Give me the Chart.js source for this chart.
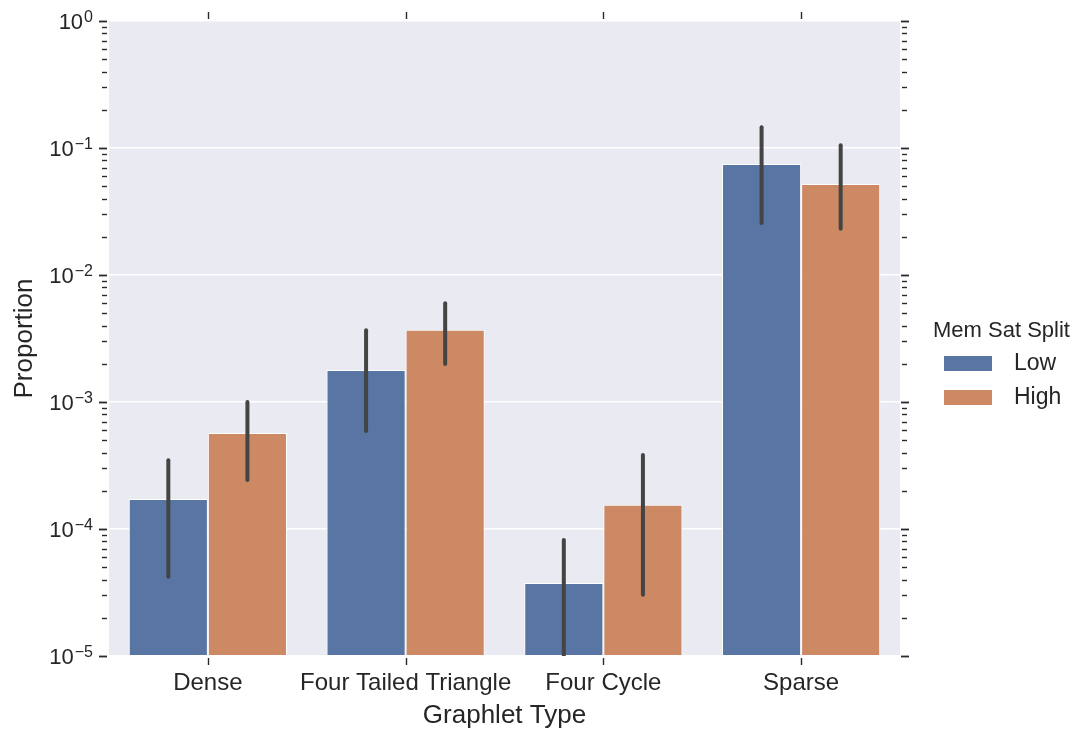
<!DOCTYPE html>
<html>
<head>
<meta charset="utf-8">
<script src="https://cdn.jsdelivr.net/npm/chart.js@4.4.0/dist/chart.umd.min.js"></script>
<style>
    html, body { margin: 0; padding: 0; background: #ffffff; }
    #wrap { width: 1082px; height: 732px; position: relative; }
</style>
</head>
<body>
<div id="wrap"><canvas id="chart"></canvas></div>
<script>
(function () {
    // values (log scale)
    const categories = ['Dense', 'Four Tailed Triangle', 'Four Cycle', 'Sparse'];
    const seriesNames = ['Low', 'High'];
    const lowValues = [1.72e-4, 1.79e-3, 3.76e-5, 0.0749];
    const highValues = [5.7e-4, 3.7e-3, 1.55e-4, 0.052];
    const lowCiLow = [4.2e-5, 5.9e-4, 9e-6, 0.0257];
    const lowCiHigh = [3.48e-4, 3.68e-3, 8.2e-5, 0.146];
    const highCiLow = [2.43e-4, 1.99e-3, 3.03e-5, 0.0231];
    const highCiHigh = [1.0e-3, 6.0e-3, 3.82e-4, 0.105];
    const majorTicks = [1e-5, 1e-4, 1e-3, 1e-2, 1e-1, 1];
    const minorSteps = [2, 3, 4, 5, 6, 7, 8, 9];

    const colors = ['#5875a4', '#cc8963'];
    const textColor = '#262626';
    const tickColor = '#2a2a2a';
    const fontFamily = '"Liberation Sans", Arial, sans-serif';

    const ciLow = [lowCiLow, highCiLow];
    const ciHigh = [lowCiHigh, highCiHigh];

    function line(ctx, x1, y1, x2, y2) {
        ctx.beginPath();
        ctx.moveTo(x1, y1);
        ctx.lineTo(x2, y2);
        ctx.stroke();
    }

    const decorations = {
        id: 'decorations',
        beforeDraw(chart) {
            const { ctx, chartArea: a } = chart;
            ctx.save();
            ctx.fillStyle = '#eaeaf2';
            ctx.fillRect(a.left, a.top, a.right - a.left, a.bottom - a.top);
            ctx.restore();
        },
        afterDatasetsDraw(chart) {
            const { ctx, chartArea: a } = chart;
            const y = chart.scales.y;
            ctx.save();
            ctx.beginPath();
            ctx.rect(a.left, a.top, a.right - a.left, a.bottom - a.top);
            ctx.clip();
            ctx.strokeStyle = '#444444';
            ctx.lineWidth = 4;
            ctx.lineCap = 'round';
            chart.data.datasets.forEach((ds, d) => {
                chart.getDatasetMeta(d).data.forEach((bar, i) => {
                    line(ctx, bar.x, y.getPixelForValue(ciHigh[d][i]), bar.x, y.getPixelForValue(ciLow[d][i]));
                });
            });
            ctx.restore();
        },
        afterDraw(chart) {
            const { ctx, chartArea: a } = chart;
            const x = chart.scales.x;
            const y = chart.scales.y;
            ctx.save();
            ctx.strokeStyle = tickColor;

            // y ticks, left and right
            y.ticks.forEach(t => {
                const py = Math.round(y.getPixelForValue(t.value)) + 0.5;
                ctx.lineWidth = t.major ? 1.8 : 1.4;
                if (t.major) {
                    line(ctx, a.left - 10, py, a.left - 2, py);
                    line(ctx, a.right + 1, py, a.right + 9, py);
                } else {
                    line(ctx, a.left - 7, py, a.left - 2, py);
                    line(ctx, a.right + 2, py, a.right + 7, py);
                }
            });

            // x ticks, top and bottom
            ctx.lineWidth = 1.4;
            categories.forEach((c, i) => {
                const px = Math.round(x.getPixelForValue(i)) + 0.5;
                line(ctx, px, a.top - 9, px, a.top - 2);
                line(ctx, px, a.bottom + 2, px, a.bottom + 9);
            });

            // y tick labels as 10^n
            ctx.fillStyle = textColor;
            ctx.textBaseline = 'alphabetic';
            ctx.textAlign = 'left';
            y.ticks.filter(t => t.major).forEach(t => {
                const py = y.getPixelForValue(t.value);
                const expText = String(Math.round(Math.log10(t.value))).replace('-', '\u2212');
                ctx.font = '22px ' + fontFamily;
                const baseW = ctx.measureText('10').width;
                ctx.font = '16px ' + fontFamily;
                const expW = ctx.measureText(expText).width;
                const right = a.left - 16;
                ctx.font = '22px ' + fontFamily;
                ctx.fillText('10', right - expW - baseW - 1, py + 8);
                ctx.font = '16px ' + fontFamily;
                ctx.fillText(expText, right - expW, py + 1);
            });

            // legend
            ctx.textBaseline = 'middle';
            ctx.font = '22px ' + fontFamily;
            ctx.fillText('Mem Sat Split', 933, 331);
            seriesNames.forEach((name, d) => {
                const top = 356 + d * 34;
                ctx.fillStyle = colors[d];
                ctx.fillRect(944, top, 48, 15);
                ctx.fillStyle = textColor;
                ctx.font = '23px ' + fontFamily;
                ctx.fillText(name, 1014, top + 8);
            });
            ctx.restore();
        }
    };

    new Chart(document.getElementById('chart'), {
        type: 'bar',
        data: {
            labels: categories,
            datasets: [
                { label: seriesNames[0], data: lowValues, backgroundColor: colors[0] },
                { label: seriesNames[1], data: highValues, backgroundColor: colors[1] },
            ],
        },
        options: {
            responsive: true,
            maintainAspectRatio: false,
            animation: false,
            layout: { padding: { left: 0, right: 182, top: 21, bottom: 0 } },
            datasets: {
                bar: {
                    categoryPercentage: 0.8,
                    barPercentage: 1.0,
                    borderColor: '#ffffff',
                    borderWidth: 1,
                    borderSkipped: false,
                },
            },
            plugins: {
                legend: { display: false },
                tooltip: { enabled: false },
            },
            scales: {
                x: {
                    grid: { display: false, drawTicks: false },
                    border: { display: false },
                    ticks: {
                        color: textColor,
                        padding: 13,
                        autoSkip: false,
                        maxRotation: 0,
                        minRotation: 0,
                        font: { family: fontFamily, size: 24 },
                    },
                    title: {
                        display: true,
                        text: 'Graphlet Type',
                        color: textColor,
                        font: { family: fontFamily, size: 26 },
                        padding: { top: 0, bottom: 1 },
                    },
                    afterFit(scale) { scale.height = 76; },
                },
                y: {
                    type: 'logarithmic',
                    min: majorTicks[0],
                    max: majorTicks[majorTicks.length - 1],
                    grid: {
                        drawTicks: false,
                        lineWidth: 1.5,
                        color: (ctx) => (ctx.tick && ctx.tick.major ? '#ffffff' : 'rgba(0,0,0,0)'),
                    },
                    border: { display: false },
                    ticks: { display: false },
                    afterBuildTicks(scale) {
                        const ticks = [];
                        majorTicks.forEach((m, k) => {
                            ticks.push({ value: m, major: true });
                            if (k < majorTicks.length - 1) {
                                minorSteps.forEach(s => ticks.push({ value: m * s, major: false }));
                            }
                        });
                        scale.ticks = ticks;
                    },
                    title: {
                        display: true,
                        text: 'Proportion',
                        color: textColor,
                        font: { family: fontFamily, size: 26 },
                        padding: { top: 9, bottom: 0 },
                    },
                    afterFit(scale) { scale.width = 109; },
                },
            },
        },
        plugins: [decorations],
    });
})();
</script>
</body>
</html>
